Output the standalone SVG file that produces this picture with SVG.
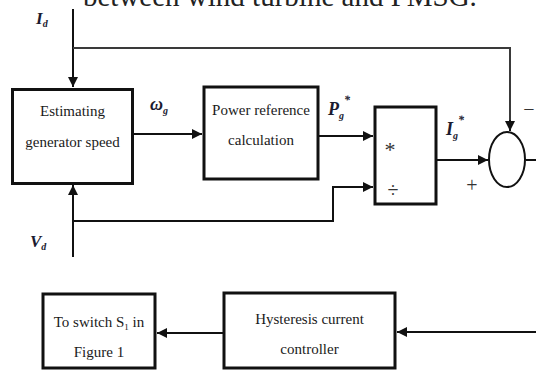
<svg xmlns="http://www.w3.org/2000/svg" width="536" height="371" viewBox="0 0 536 371">
<defs>
<marker id="ah" viewBox="0 0 10 10" refX="10" refY="5" markerWidth="5" markerHeight="5" orient="auto" markerUnits="strokeWidth">
<path d="M0,0 L10,5 L0,10 z" fill="#111"/>
</marker>
<style>
.box{fill:#fff;stroke:#111;stroke-width:3}
.ln{fill:none;stroke:#111;stroke-width:2}
.t{font-family:"Liberation Serif",serif;font-size:15px;fill:#1a1a1a;text-anchor:middle}
.s{font-family:"Liberation Serif",serif;fill:#333;text-anchor:middle}
.m{font-family:"Liberation Serif",serif;font-style:italic;font-weight:bold;fill:#1b1b30}
</style>
</defs>
<rect width="536" height="371" fill="#fff"/>
<text x="83" y="6" font-family="Liberation Serif, serif" font-size="29" fill="#222">between wind turbine and PMSG.</text>
<g id="connectors">
<path class="ln" d="M73,9 V87" marker-end="url(#ah)"/>
<path class="ln" d="M73,48 H510 V131" style="stroke:#3a3a3a"/>
<path class="ln" d="M510,120 V131" marker-end="url(#ah)"/>
<path class="ln" d="M133,134 H202" marker-end="url(#ah)"/>
<path class="ln" d="M318,136 H373" marker-end="url(#ah)"/>
<path class="ln" d="M73,257 V185" marker-end="url(#ah)"/>
<path class="ln" d="M73,221 H333 V187 H373" marker-end="url(#ah)"/>
<path class="ln" d="M436,160 H488" marker-end="url(#ah)"/>
<path class="ln" d="M526,160 H536"/>
<path class="ln" d="M536,332 H397" marker-end="url(#ah)"/>
<path class="ln" d="M224,333 H157" marker-end="url(#ah)"/>
</g>
<g id="estimating">
<rect class="box" x="12.5" y="89.5" width="120" height="94"/>
<text class="t" x="72.5" y="116">Estimating</text>
<text class="t" x="72.5" y="147">generator speed</text>
</g>
<g id="power">
<rect class="box" x="204" y="87" width="114" height="92"/>
<text class="t" x="261" y="115">Power reference</text>
<text class="t" x="261" y="145">calculation</text>
</g>
<g id="multdiv">
<rect class="box" x="375" y="107" width="61" height="97"/>
<text class="s" x="390" y="157" font-size="22">*</text>
<text class="s" x="393" y="197" font-size="20">÷</text>
</g>
<g id="sum">
<ellipse cx="507" cy="159.5" rx="18" ry="27.5" fill="#fff" stroke="#111" stroke-width="2"/>
<text class="s" x="529" y="116" font-size="20">−</text>
<text class="s" x="472" y="192" font-size="20">+</text>
</g>
<g id="switch">
<rect class="box" x="43" y="294" width="112" height="74"/>
<text class="t" x="99" y="327">To switch S<tspan font-size="9" dy="3">1</tspan><tspan dy="-3"> in</tspan></text>
<text class="t" x="99" y="357">Figure 1</text>
</g>
<g id="hysteresis">
<rect class="box" x="224" y="293" width="171" height="75"/>
<text class="t" x="309.5" y="324">Hysteresis current</text>
<text class="t" x="309.5" y="354">controller</text>
</g>
<g id="labels">
<text class="m" x="36" y="24" font-size="17">I<tspan font-size="10" dy="3">d</tspan></text>
<text class="m" x="30" y="247" font-size="17">V<tspan font-size="10" dy="3">d</tspan></text>
<text class="m" x="150" y="110" font-size="18">ω<tspan font-size="10" dy="4">g</tspan></text>
<text class="m" x="328" y="115" font-size="18">P<tspan font-size="10" dy="4">g</tspan><tspan font-size="12" dy="-15">*</tspan></text>
<text class="m" x="446" y="135" font-size="18">I<tspan font-size="10" dy="4">g</tspan><tspan font-size="12" dy="-15">*</tspan></text>
</g>
</svg>
